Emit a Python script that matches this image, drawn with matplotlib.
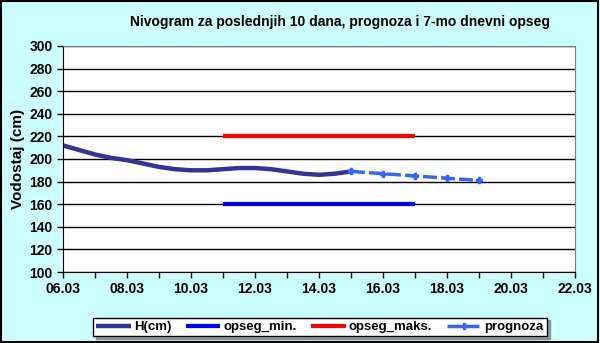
import numpy as np
import matplotlib
matplotlib.use("Agg")
import matplotlib.pyplot as plt
from matplotlib.patches import Rectangle

plt.rcParams['font.family'] = ['Liberation Sans', 'DejaVu Sans']

# dani od 06.03 (0 = 06.03), ocitano na pola dana
h_dani = [0, 0.5, 1, 1.5, 2, 2.5, 3, 3.5, 4, 4.5, 5, 5.5, 6, 6.5, 7, 7.5, 8, 8.5, 9]
h_cm = [212, 208, 204, 201, 199, 196, 193, 191, 190, 190, 191, 192, 192, 191, 189, 187, 186, 187, 189]

prog_dani = [9, 10, 11, 12, 13]
prognoza = [189, 187, 185, 183, 181]

opseg_dani = [5, 11]
opseg_min = [160, 160]
opseg_maks = [220, 220]

tick_labels = ['06.03', '08.03', '10.03', '12.03', '14.03', '16.03', '18.03', '20.03', '22.03']

bg = '#ccffff'
fig = plt.figure(figsize=(6, 3.43), dpi=100, facecolor=bg)
fig.patches.append(Rectangle((0.002, 0.003), 0.995, 0.994, transform=fig.transFigure,
                             fill=False, edgecolor='black', linewidth=1.5))
ax = fig.add_axes([63/600, 1 - 272/343, 512/600, 226/343])
ax.set_facecolor('white')

ax.plot(h_dani, h_cm, color='#333399', linewidth=3.2, label='H(cm)', solid_capstyle='butt')
ax.plot(opseg_dani, opseg_min, color='#0000ff', linewidth=3, label='opseg_min.', solid_capstyle='butt')
ax.plot(opseg_dani, opseg_maks, color='#ff0000', linewidth=3, label='opseg_maks.', solid_capstyle='butt')
ax.plot(prog_dani, prognoza, color='#3366ff', linewidth=2.5, linestyle=(0, (4, 1.2)),
        marker='P', markersize=5, label='prognoza')

ax.set_xlim(0, 16)
ax.set_ylim(100, 300)
ax.set_xticks(np.arange(0, 17, 2))
ax.set_xticklabels(tick_labels)
ax.set_xticks(np.arange(0, 17, 1), minor=True)
ax.set_yticks(np.arange(100, 301, 20))
ax.grid(axis='y', color='black', linewidth=1)
ax.set_axisbelow(True)
for s in ['top', 'right']:
    ax.spines[s].set_color('#808080')
for s in ['left', 'bottom']:
    ax.spines[s].set_color('black')
ax.tick_params(axis='both', which='both', direction='out', length=4, width=1,
               labelsize=10)
ax.tick_params(axis='x', pad=3)
for lab in ax.get_xticklabels() + ax.get_yticklabels():
    lab.set_fontweight('bold')

ax.set_ylabel('Vodostaj (cm)', fontsize=11, fontweight='bold', labelpad=3)
fig.text(340/600, 1 - 22/343, 'Nivogram za poslednjih 10 dana, prognoza i 7-mo dnevni opseg',
         ha='center', va='center', fontsize=10, fontweight='bold')

leg = fig.legend(loc='center', bbox_to_anchor=(320/600, 1 - 327/343), ncol=4,
                 fontsize=9.5, frameon=True, fancybox=False, shadow=True,
                 edgecolor='black', handlelength=2.6, columnspacing=1.1,
                 handletextpad=0.25, borderpad=0.25)
leg.get_frame().set_linewidth(1)
for t in leg.get_texts():
    t.set_fontweight('bold')

fig.savefig('out.png', dpi=100, facecolor=bg)
